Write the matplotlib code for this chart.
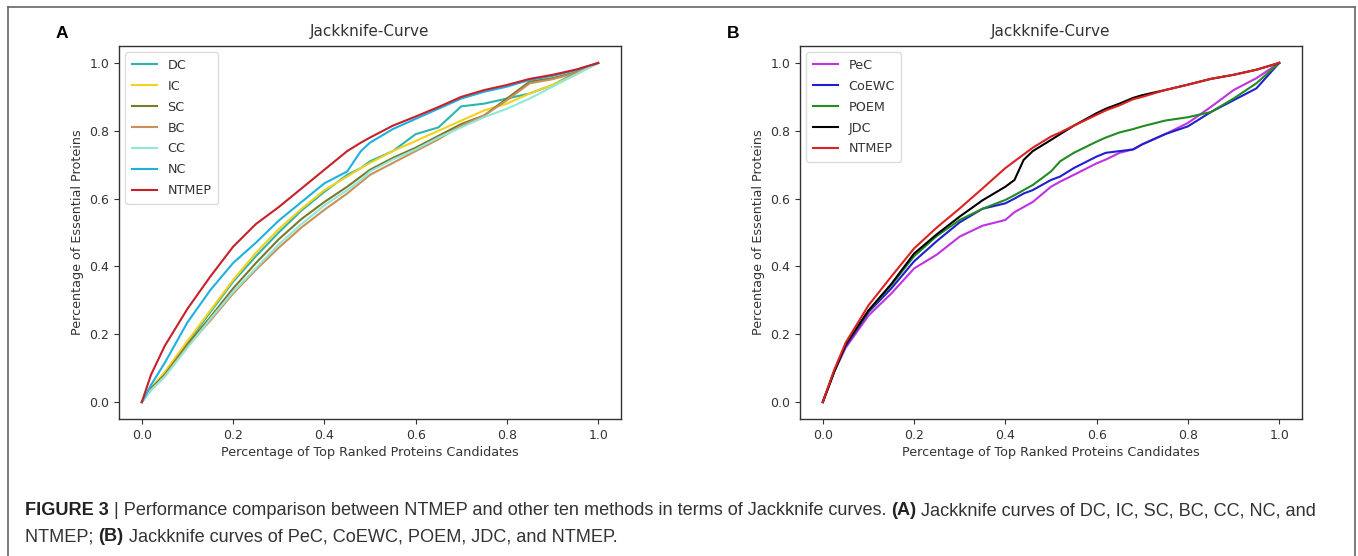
import matplotlib
matplotlib.use("Agg")
import matplotlib.pyplot as plt
from matplotlib.lines import Line2D
from matplotlib import font_manager

# ---------------- data ----------------
xa = [0, 0.02, 0.05, 0.1, 0.15, 0.2, 0.25, 0.3, 0.35, 0.4, 0.45, 0.48, 0.5, 0.55,
      0.6, 0.65, 0.7, 0.75, 0.8, 0.85, 0.9, 0.95, 1.0]
a_dc = [0, 0.04, 0.085, 0.175, 0.265, 0.355, 0.43, 0.50, 0.565, 0.62, 0.67, 0.69, 0.71,
        0.74, 0.79, 0.81, 0.872, 0.88, 0.895, 0.91, 0.935, 0.97, 1.0]
a_ic = [0, 0.04, 0.088, 0.18, 0.27, 0.36, 0.44, 0.51, 0.57, 0.625, 0.665, 0.69, 0.705,
        0.74, 0.77, 0.80, 0.83, 0.86, 0.88, 0.91, 0.935, 0.965, 1.0]
a_sc = [0, 0.04, 0.08, 0.17, 0.25, 0.335, 0.41, 0.48, 0.54, 0.59, 0.635, 0.665, 0.685,
        0.72, 0.75, 0.785, 0.82, 0.845, 0.895, 0.945, 0.955, 0.972, 1.0]
a_bc = [0, 0.035, 0.075, 0.165, 0.24, 0.32, 0.39, 0.455, 0.515, 0.567, 0.615, 0.648, 0.67,
        0.705, 0.74, 0.775, 0.815, 0.845, 0.89, 0.94, 0.952, 0.97, 1.0]
a_cc = [0, 0.035, 0.075, 0.16, 0.245, 0.325, 0.395, 0.465, 0.525, 0.58, 0.625, 0.655, 0.68,
        0.715, 0.745, 0.78, 0.81, 0.84, 0.865, 0.895, 0.93, 0.965, 1.0]
a_nc = [0, 0.05, 0.115, 0.235, 0.33, 0.41, 0.47, 0.535, 0.59, 0.645, 0.68, 0.74, 0.765,
        0.805, 0.835, 0.865, 0.895, 0.915, 0.93, 0.95, 0.962, 0.978, 1.0]
a_nt = [0, 0.08, 0.165, 0.275, 0.37, 0.458, 0.525, 0.575, 0.63, 0.685, 0.74, 0.765, 0.78,
        0.815, 0.842, 0.87, 0.90, 0.92, 0.935, 0.953, 0.965, 0.98, 1.0]

xb = [0, 0.025, 0.05, 0.1, 0.15, 0.2, 0.25, 0.3, 0.35, 0.4, 0.42, 0.44, 0.46, 0.5, 0.52,
      0.55, 0.6, 0.62, 0.65, 0.68, 0.7, 0.75, 0.8, 0.85, 0.9, 0.95, 1.0]
b_pec = [0, 0.09, 0.16, 0.255, 0.32, 0.394, 0.435, 0.488, 0.52, 0.537, 0.56, 0.575, 0.59,
         0.635, 0.65, 0.67, 0.704, 0.715, 0.735, 0.745, 0.76, 0.79, 0.823, 0.87, 0.92, 0.955, 1.0]
b_coe = [0, 0.09, 0.165, 0.265, 0.335, 0.415, 0.475, 0.53, 0.57, 0.586, 0.60, 0.615, 0.625,
         0.655, 0.665, 0.69, 0.724, 0.735, 0.74, 0.745, 0.76, 0.79, 0.813, 0.855, 0.89, 0.925, 1.0]
b_poem = [0, 0.09, 0.17, 0.268, 0.345, 0.43, 0.49, 0.537, 0.57, 0.596, 0.61, 0.625, 0.64,
          0.68, 0.71, 0.735, 0.768, 0.78, 0.795, 0.805, 0.813, 0.83, 0.84, 0.855, 0.895, 0.94, 1.0]
b_jdc = [0, 0.09, 0.17, 0.27, 0.348, 0.438, 0.495, 0.547, 0.595, 0.635, 0.655, 0.714, 0.74,
         0.773, 0.79, 0.815, 0.852, 0.865, 0.88, 0.897, 0.905, 0.92, 0.936, 0.953, 0.965, 0.98, 1.0]
b_nt = [0, 0.095, 0.175, 0.285, 0.37, 0.453, 0.515, 0.571, 0.63, 0.69, 0.71, 0.73, 0.75,
        0.783, 0.795, 0.815, 0.847, 0.86, 0.875, 0.893, 0.90, 0.92, 0.936, 0.953, 0.965, 0.98, 1.0]

series_a = [("DC", a_dc, "#2bb5b0"), ("IC", a_ic, "#f2d21b"), ("SC", a_sc, "#7a7a2a"),
            ("BC", a_bc, "#c8915a"), ("CC", a_cc, "#8fe8d8"), ("NC", a_nc, "#1eb0e0"),
            ("NTMEP", a_nt, "#c8202a")]
series_b = [("PeC", b_pec, "#bf33e0"), ("CoEWC", b_coe, "#1f1fd0"), ("POEM", b_poem, "#228b22"),
            ("JDC", b_jdc, "#000000"), ("NTMEP", b_nt, "#dd2222")]

ticks = [0.0, 0.2, 0.4, 0.6, 0.8, 1.0]
tick_labels = ["0.0", "0.2", "0.4", "0.6", "0.8", "1.0"]

W, H = 1358, 556
fig = plt.figure(figsize=(W / 100, H / 100), dpi=100)
fig.patch.set_facecolor("white")

def px_axes(l, r, t, b):
    return [l / W, 1 - b / H, (r - l) / W, (b - t) / H]

txt_col = "#333333"

def make_panel(rect, x, series, letter, letter_x):
    ax = fig.add_axes(rect)
    for name, ys, c in series:
        ax.plot(x, ys, color=c, lw=1.5, label=name)
    ax.set_xlim(-0.05, 1.05)
    ax.set_ylim(-0.05, 1.05)
    ax.set_xticks(ticks)
    ax.set_xticklabels(tick_labels)
    ax.set_yticks(ticks)
    ax.set_yticklabels(tick_labels)
    ax.tick_params(labelsize=9, colors=txt_col, length=3.5)
    for s in ax.spines.values():
        s.set_color("#333333")
        s.set_linewidth(1.0)
    ax.set_title("Jackknife-Curve", fontsize=11, color=txt_col, pad=7)
    ax.set_xlabel("Percentage of Top Ranked Proteins Candidates", fontsize=9.2, color=txt_col, labelpad=3)
    ax.set_ylabel("Percentage of Essential Proteins", fontsize=9.2, color=txt_col, labelpad=4)
    leg = ax.legend(loc="upper left", fontsize=9.2, framealpha=1, edgecolor="#dddddd",
                    handlelength=2.0, labelspacing=0.62, borderpad=0.5)
    for t in leg.get_texts():
        t.set_color(txt_col)
    fig.text(letter_x / W, 1 - 33 / H, letter, fontsize=12.5, fontweight="bold",
             family=["Liberation Sans", "DejaVu Sans"], ha="center", va="center", color="black")
    return ax

make_panel(px_axes(119, 621, 46, 419), xa, series_a, "A", 62)
make_panel(px_axes(800, 1302, 46, 419), xb, series_b, "B", 733)

# frame around the figure
frame_col = "#666666"
fig.add_artist(Line2D([8 / W, 8 / W], [1 - 7 / H, 0], transform=fig.transFigure, color=frame_col, lw=1.2))
fig.add_artist(Line2D([1355 / W, 1355 / W], [1 - 7 / H, 0], transform=fig.transFigure, color=frame_col, lw=1.2))
fig.add_artist(Line2D([8 / W, 1355 / W], [1 - 7 / H, 1 - 7 / H], transform=fig.transFigure, color=frame_col, lw=1.2))

# caption
avail = {f.name for f in font_manager.fontManager.ttflist}
cap_family = ["Liberation Sans Narrow"] if "Liberation Sans Narrow" in avail else ["Liberation Sans"]
cap_family = cap_family + ["DejaVu Sans"]
renderer = fig.canvas.get_renderer()

line1 = [("FIGURE 3", "bold"), (" | Performance comparison between NTMEP and other ten methods in terms of Jackknife curves. ", "normal"),
         ("(A)", "bold"), (" Jackknife curves of DC, IC, SC, BC, CC, NC, and", "normal")]
line2 = [("NTMEP; ", "normal"), ("(B)", "bold"), (" Jackknife curves of PeC, CoEWC, POEM, JDC, and NTMEP.", "normal")]

def line_width(segs, fs):
    tot = 0
    for s, w in segs:
        t = fig.text(0, 0, s, fontsize=fs, fontweight=w, family=cap_family)
        tot += t.get_window_extent(renderer).width
        t.remove()
    return tot

base_fs = 10
w1 = line_width(line1, base_fs)
fs = base_fs * (1320 - 25) / w1

def draw_line(segs, x0, y, fs):
    x = x0
    for s, w in segs:
        t = fig.text(x / W, 1 - y / H, s, fontsize=fs, fontweight=w, family=cap_family,
                     va="baseline", ha="left", color="#333333" if w == "normal" else "#222222")
        x += t.get_window_extent(renderer).width

draw_line(line1, 25, 515, fs)
draw_line(line2, 25, 541, fs)

fig.savefig("out.png", dpi=100, facecolor="white")
